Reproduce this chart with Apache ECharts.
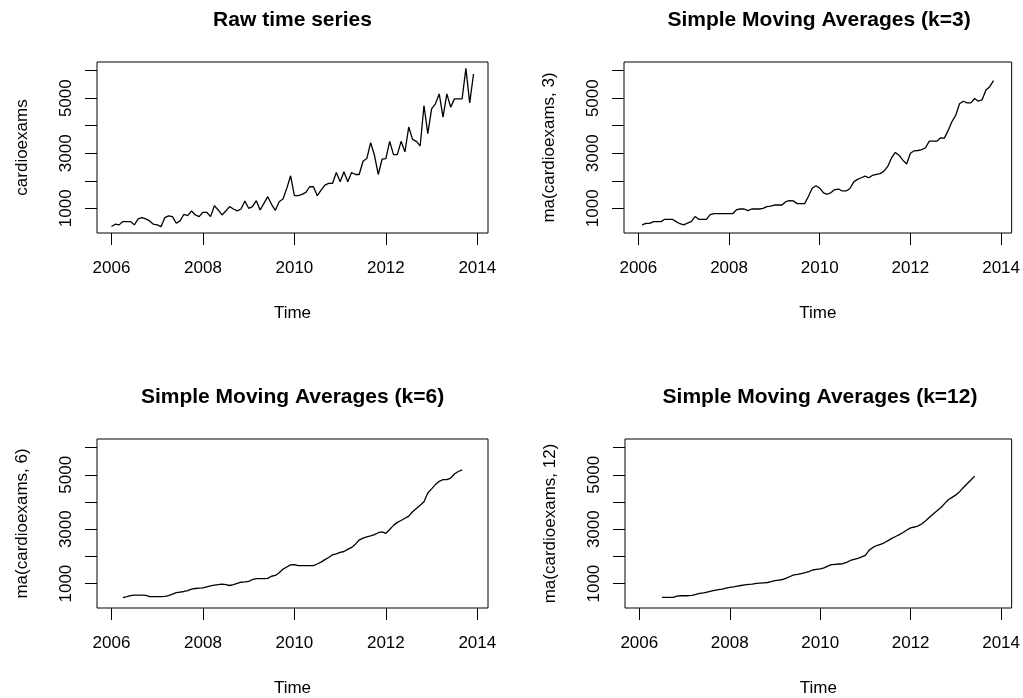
<!DOCTYPE html>
<html lang="en">
<head>
  <meta charset="UTF-8">
  <title>cardioexams moving averages</title>
  <style>
    html, body, #main { margin: 0; width: 100%; height: 100%; background: #fff; }
  </style>
</head>
<body>
  <div id="main"></div>
  <script src="https://cdn.jsdelivr.net/npm/echarts@6/dist/echarts.min.js"></script>
  <script>
    // monthly series, first month = Jan 2006
    const startYear = 2006;
    const xTicks = [2006, 2008, 2010, 2012, 2014];
    const yTicks = [1000, 2000, 3000, 4000, 5000, 6000];
    const yLabels = [1000, 3000, 5000];

    const rawValues = [
      337, 422, 398, 518, 518, 518, 398, 614, 663, 614, 542, 422,
      398, 333, 663, 723, 699, 458, 542, 783, 735, 904, 759, 699,
      855, 855, 699, 1096, 940, 759, 904, 1060, 976, 904, 976, 1265,
      1000, 1060, 1277, 940, 1181, 1422, 1145, 928, 1241, 1337, 1723, 2181,
      1458, 1458, 1506, 1578, 1783, 1783, 1458, 1663, 1844, 1904, 1904, 2301,
      1964, 2326, 1964, 2301, 2229, 2229, 2711, 2808, 3386, 2928, 2229, 2783,
      2808, 3434, 2952, 2952, 3434, 3049, 3952, 3506, 3434, 3265, 4735, 3711,
      4615, 4795, 5157, 4313, 5157, 4675, 4976, 4976, 4976, 6085, 4831, 5880
    ];

    // k=3: Feb 2006 .. Nov 2013
    const ma3Start = 1;
    const ma3Values = [
      398, 456, 456, 515, 515, 515, 600, 600, 600, 515, 440,
      395, 460, 515, 700, 600, 600, 600, 770, 810, 810, 810, 810,
      810, 810, 950, 975, 975, 915, 975, 975, 975, 1000, 1060, 1080,
      1120, 1120, 1120, 1240, 1280, 1270, 1170, 1170, 1170, 1430, 1730, 1820,
      1730, 1560, 1510, 1570, 1680, 1700, 1630, 1630, 1720, 1960, 2050, 2110,
      2170, 2110, 2200, 2230, 2260, 2350, 2520, 2830, 3030, 2930, 2750, 2610,
      3000, 3090, 3100, 3130, 3200, 3440, 3440, 3440, 3560, 3550, 3830, 4150,
      4380, 4800, 4890, 4830, 4830, 4990, 4890, 4950, 5300, 5420, 5640
    ];

    // k=6: Apr 2006 .. Sep 2013
    const ma6Start = 3;
    const ma6Values = [
      482, 518, 560, 578, 578, 578, 570, 518, 518,
      518, 518, 530, 560, 610, 665, 690, 710, 745, 800, 820, 830,
      840, 880, 920, 940, 960, 980, 960, 930, 960, 1010, 1050, 1060,
      1080, 1150, 1180, 1180, 1180, 1190, 1270, 1300, 1400, 1530, 1610, 1690,
      1700, 1660, 1660, 1660, 1660, 1660, 1720, 1790, 1880, 1960, 2060, 2090,
      2150, 2180, 2260, 2330, 2450, 2600, 2670, 2720, 2750, 2800, 2870, 2900,
      2850, 2990, 3140, 3250, 3320, 3400, 3480, 3640, 3760, 3880, 4010, 4330,
      4480, 4640, 4760, 4820, 4820, 4880, 5030, 5120, 5180
    ];

    // k=12: Jul 2006 .. Jun 2013
    const ma12Start = 6;
    const ma12Values = [
      494, 494, 494, 494, 540, 554,
      554, 554, 570, 600, 640, 660, 690, 720, 750, 780, 800, 830,
      860, 880, 910, 930, 950, 970, 980, 1010, 1020, 1030, 1040, 1070,
      1110, 1130, 1150, 1200, 1260, 1320, 1340, 1370, 1400, 1440, 1500, 1520,
      1540, 1580, 1640, 1700, 1710, 1720, 1730, 1780, 1850, 1890, 1930, 1980,
      2040, 2230, 2330, 2400, 2440, 2500, 2580, 2660, 2730, 2800, 2880, 2970,
      3050, 3080, 3120, 3200, 3310, 3440, 3560, 3680, 3790, 3940, 4080, 4170,
      4260, 4380, 4530, 4670, 4810, 4950
    ];

    const panels = [
      { title: 'Raw time series', yName: 'cardioexams', start: 0, values: rawValues },
      { title: 'Simple Moving Averages (k=3)', yName: 'ma(cardioexams, 3)', start: ma3Start, values: ma3Values },
      { title: 'Simple Moving Averages (k=6)', yName: 'ma(cardioexams, 6)', start: ma6Start, values: ma6Values },
      { title: 'Simple Moving Averages (k=12)', yName: 'ma(cardioexams, 12)', start: ma12Start, values: ma12Values }
    ];

    // plot boxes like R's par(mfrow=c(2,2))
    const boxes = [
      { left: 97, top: 62, width: 391, height: 171 },
      { left: 624, top: 62, width: 390, height: 171 },
      { left: 97, top: 439, width: 391, height: 171 },
      { left: 625, top: 439, width: 390, height: 171 }
    ];

    // R style 4% range extension
    const tEnd = startYear + (rawValues.length - 1) / 12;
    const tPad = (tEnd - startYear) * 0.04;
    const vMin = Math.min(...rawValues), vMax = Math.max(...rawValues);
    const vPad = (vMax - vMin) * 0.04;

    const font = '"Liberation Sans", Arial, sans-serif';
    const black = '#000';
    const plain = v => String(v);

    const option = {
      animation: false,
      backgroundColor: '#fff',
      title: panels.map((p, i) => ({
        text: p.title,
        left: boxes[i].left + boxes[i].width / 2,
        top: boxes[i].top - 52,
        textAlign: 'center',
        padding: 0,
        textStyle: { fontFamily: font, fontSize: 21, fontWeight: 'bold', color: black }
      })),
      grid: boxes.map(b => ({
        left: b.left, top: b.top, width: b.width, height: b.height,
        show: true, borderColor: black, borderWidth: 1, backgroundColor: 'transparent',
        containLabel: false
      })),
      xAxis: boxes.map((b, i) => ({
        type: 'value',
        gridIndex: i,
        min: startYear - tPad,
        max: tEnd + tPad,
        name: 'Time',
        nameLocation: 'middle',
        nameGap: 72,
        nameTextStyle: { fontFamily: font, fontSize: 17, color: black },
        axisLine: { show: false },
        axisTick: { show: true, customValues: xTicks, length: 12, lineStyle: { color: black, width: 1 } },
        axisLabel: { customValues: xTicks, formatter: plain, margin: 27, fontFamily: font, fontSize: 17, color: black },
        splitLine: { show: false }
      })),
      yAxis: boxes.map((b, i) => ({
        type: 'value',
        gridIndex: i,
        min: vMin - vPad,
        max: vMax + vPad,
        name: panels[i].yName,
        nameLocation: 'middle',
        nameGap: 66,
        nameTextStyle: { fontFamily: font, fontSize: 17, color: black },
        axisLine: { show: false },
        axisTick: { show: true, customValues: yTicks, length: 12, lineStyle: { color: black, width: 1 } },
        axisLabel: { customValues: yLabels, formatter: plain, rotate: 90, margin: 22, fontFamily: font, fontSize: 17, color: black },
        splitLine: { show: false }
      })),
      series: panels.map((p, i) => ({
        type: 'line',
        xAxisIndex: i,
        yAxisIndex: i,
        showSymbol: false,
        silent: true,
        lineStyle: { color: black, width: 1.3 },
        data: p.values.map((v, j) => [startYear + (p.start + j) / 12, v])
      }))
    };

    const chart = echarts.init(document.getElementById('main'));
    chart.setOption(option);
  </script>
</body>
</html>
